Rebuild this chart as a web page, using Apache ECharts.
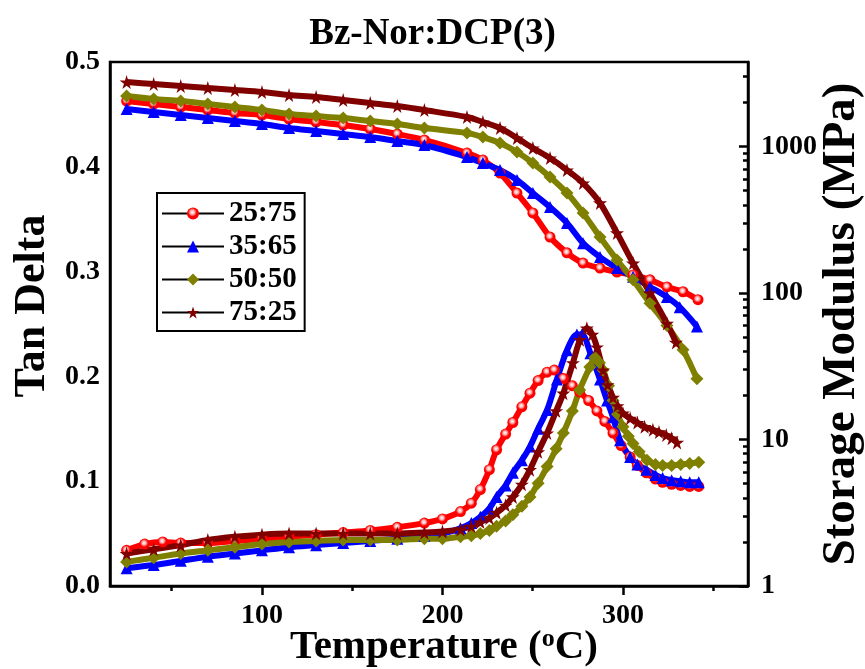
<!DOCTYPE html>
<html>
<head>
<meta charset="utf-8">
<script src="https://cdn.jsdelivr.net/npm/echarts@6/dist/echarts.min.js"></script>
<style>
  html, body { margin: 0; padding: 0; background: #ffffff; }
  #chart { width: 865px; height: 669px; }
</style>
</head>
<body>
<div id="chart"></div>
<script>
// Bz-Nor:DCP(3) dynamic mechanical analysis: tan delta (left) and storage modulus (right, log)
// Each point is [temperature (°C), value]

// Tan delta
const tan_25_75 = [[25,0.034],[35,0.040],[45,0.042],[55,0.041],[70,0.041],[85,0.043],[100,0.045],[115,0.047],[130,0.049],[145,0.051],[160,0.053],[175,0.056],[190,0.060],[200,0.064],[210,0.071],[216,0.079],[221,0.092],[226,0.111],[230,0.130],[235,0.145],[239,0.156],[244,0.171],[248.5,0.184],[253,0.196],[258,0.204],[262,0.206],[267,0.198],[272,0.191],[276,0.185],[281,0.177],[285.6,0.167],[290,0.157],[294.5,0.146],[299,0.134],[304,0.123],[308,0.115],[313,0.108],[318,0.102],[322,0.099],[327,0.097],[332,0.096],[337,0.095],[342,0.095]];
const tan_35_65 = [[25,0.017],[40,0.020],[55,0.024],[70,0.028],[85,0.031],[100,0.034],[115,0.037],[130,0.039],[145,0.041],[160,0.043],[175,0.045],[190,0.048],[200,0.050],[210,0.055],[216,0.060],[221,0.066],[226,0.074],[230,0.085],[235,0.096],[239,0.108],[244,0.120],[248.5,0.133],[253,0.150],[258,0.168],[263.4,0.197],[269,0.225],[274.5,0.240],[277.3,0.240],[282,0.222],[287.3,0.197],[291.2,0.177],[294.5,0.161],[298.4,0.139],[304,0.123],[308,0.116],[313,0.111],[318,0.106],[322,0.103],[327,0.101],[332,0.100],[337,0.099],[342,0.099]];
const tan_50_50 = [[25,0.023],[40,0.027],[55,0.031],[70,0.034],[85,0.037],[100,0.040],[115,0.042],[130,0.043],[145,0.044],[160,0.044],[175,0.044],[190,0.045],[200,0.045],[210,0.047],[216,0.048],[221,0.050],[226,0.053],[230,0.057],[235,0.062],[239,0.068],[244,0.076],[248.5,0.085],[253,0.098],[258,0.114],[263,0.131],[267,0.146],[272,0.167],[276,0.187],[281.7,0.209],[284.5,0.218],[287,0.213],[289,0.206],[292,0.191],[294.5,0.177],[297,0.164],[300,0.152],[303,0.143],[305.6,0.136],[309,0.128],[313.3,0.120],[318,0.116],[322,0.115],[327,0.115],[332,0.116],[337,0.117],[342,0.118]];
const tan_75_25 = [[25,0.031],[40,0.035],[55,0.039],[70,0.044],[85,0.047],[100,0.049],[115,0.050],[130,0.050],[145,0.050],[160,0.050],[175,0.050],[190,0.051],[200,0.052],[210,0.054],[216,0.057],[221,0.061],[226,0.065],[230,0.070],[235,0.077],[239,0.085],[244,0.097],[248.5,0.111],[253,0.128],[258,0.146],[263,0.167],[267,0.184],[272.3,0.213],[276.2,0.235],[280,0.246],[283,0.240],[285.6,0.228],[289,0.206],[291.5,0.192],[294.5,0.180],[297,0.172],[300,0.165],[304,0.160],[308,0.156],[312,0.152],[316.6,0.149],[320,0.147],[324,0.144],[327,0.141],[330,0.137]];

// Storage modulus (MPa)
const mod_25_75 = [[25,2045],[40,1951],[55,1860],[70,1775],[85,1693],[100,1641],[115,1541],[130,1470],[145,1402],[160,1317],[175,1217],[190,1108],[213.6,903],[222.4,809],[231.9,659],[241.3,481],[250.1,352],[259.6,241],[269,188],[277.9,160],[287.3,148],[296.7,139],[305.6,133],[315,123],[324.4,110],[333.3,102],[341.6,90]];
const mod_35_65 = [[25,1803],[40,1720],[55,1641],[70,1565],[85,1494],[100,1424],[115,1337],[130,1276],[145,1217],[160,1161],[175,1090],[190,1024],[213.6,848],[222.4,772],[231.9,691],[241.3,591],[250.1,481],[259.6,386],[269,301],[277.9,219],[287.3,176],[296.7,148],[305.6,129],[315,110],[324.4,94],[331.5,80],[341,59]];
const mod_50_50 = [[25,2212],[40,2110],[55,2045],[70,1951],[85,1860],[100,1775],[115,1667],[130,1615],[145,1565],[160,1494],[175,1424],[190,1337],[213.6,1237],[222.4,1161],[231.9,1057],[241.3,917],[250.1,772],[259.6,619],[269,481],[277.9,352],[287.3,241],[296.7,168],[305.6,123],[315,85],[324.4,60],[333.3,41],[341,26]];
const mod_75_25 = [[25,2755],[40,2671],[55,2588],[70,2508],[85,2431],[100,2355],[115,2247],[130,2178],[145,2077],[160,1981],[175,1890],[190,1775],[213.6,1590],[222.4,1470],[231.9,1337],[241.3,1143],[250.1,977],[259.6,835],[269,691],[277.9,563],[287.3,412],[296.7,257],[305.6,160],[315,100],[324.4,62],[329.4,46]];

// Axis ticks and labels
const tempLabels = [100, 200, 300];
const tempMinorTicks = [50, 150, 250, 350];
const modLabels = [1, 10, 100, 1000];
const modMinorTicks = [2,3,4,5,6,7,8,9,20,30,40,50,60,70,80,90,200,300,400,500,600,700,800,900,2000,3000];

const FONT = '"Liberation Serif", "Times New Roman", serif';
const STAR = 'path://M50,0 L61,35 L98,35 L68,57 L79,91 L50,70 L21,91 L32,57 L2,35 L39,35 Z';

const redBall = {
  type: 'radial', x: 0.45, y: 0.4, r: 0.6,
  colorStops: [
    { offset: 0, color: '#ffffff' },
    { offset: 0.3, color: '#ffb0b0' },
    { offset: 0.6, color: '#ff0000' },
    { offset: 1, color: '#ff0000' }
  ]
};

const groups = [
  { name: '25:75', tan: tan_25_75, mod: mod_25_75, color: '#ff0000', fill: redBall, symbol: 'circle', size: 11 },
  { name: '35:65', tan: tan_35_65, mod: mod_35_65, color: '#0000ff', fill: '#0000ff', symbol: 'triangle', size: 12 },
  { name: '50:50', tan: tan_50_50, mod: mod_50_50, color: '#808000', fill: '#808000', symbol: 'diamond', size: 13 },
  { name: '75:25', tan: tan_75_25, mod: mod_75_25, color: '#800000', fill: '#800000', symbol: STAR, size: 14 }
];

const series = [];
groups.forEach(g => {
  [['tan', 0], ['mod', 1]].forEach(([key, yIdx]) => {
    series.push({
      name: g.name,
      type: 'line',
      xAxisIndex: 0,
      yAxisIndex: yIdx,
      data: g[key],
      smooth: 0.3,
      symbol: g.symbol,
      symbolSize: g.size,
      showAllSymbol: true,
      lineStyle: { color: g.color, width: 6 },
      itemStyle: { color: g.fill, borderWidth: 0 },
      emphasis: { disabled: true }
    });
  });
});

const axisLineStyle = { color: '#000000', width: 2.5 };
const labelStyle = { fontFamily: FONT, fontWeight: 'bold', fontSize: 28, color: '#000000' };

const xMin = 15.8, xMax = 369.3;
const modMax = 3776;

const option = {
  animation: false,
  backgroundColor: '#ffffff',
  title: {
    text: 'Bz-Nor:DCP(3)',
    left: 'center',
    top: 11,
    textStyle: { fontFamily: FONT, fontWeight: 'bold', fontSize: 37, color: '#000000' }
  },
  legend: {
    orient: 'vertical',
    left: 157,
    top: 193,
    padding: [6, 8, 4, 4],
    itemGap: 4,
    itemWidth: 62,
    itemHeight: 15,
    borderColor: '#000000',
    borderWidth: 2,
    data: groups.map(g => g.name),
    lineStyle: { color: '#000000', width: 2 },
    textStyle: { fontFamily: FONT, fontWeight: 'bold', fontSize: 29, color: '#000000', lineHeight: 28 }
  },
  grid: {
    left: 110, right: 117, top: 62, bottom: 83,
    outerBoundsMode: 'none',
    containLabel: false,
    show: true, borderColor: '#000000', borderWidth: 2.5, backgroundColor: 'transparent'
  },
  xAxis: [
    {
      type: 'value', min: xMin, max: xMax, position: 'bottom',
      axisLine: { show: true, lineStyle: axisLineStyle },
      axisTick: { show: true, customValues: tempLabels, length: 9, lineStyle: axisLineStyle },
      axisLabel: Object.assign({ customValues: tempLabels, margin: 16 }, labelStyle),
      splitLine: { show: false },
      name: 'Temperature ({sup|o}C)',
      nameLocation: 'middle',
      nameGap: 40,
      nameMoveOverlap: false,
      nameTextStyle: {
        fontFamily: FONT, fontWeight: 'bold', fontSize: 41, color: '#000000', lineHeight: 42,
        padding: [0, 0, 0, 30],
        rich: { sup: { fontFamily: FONT, fontWeight: 'bold', fontSize: 26, lineHeight: 24, verticalAlign: 'top', color: '#000000' } }
      }
    },
    {
      type: 'value', min: xMin, max: xMax, position: 'bottom',
      axisLine: { show: false },
      axisTick: { show: true, customValues: tempMinorTicks, length: 5, lineStyle: axisLineStyle },
      axisLabel: { show: false },
      splitLine: { show: false }
    }
  ],
  yAxis: [
    {
      type: 'value', min: 0, max: 0.5, interval: 0.1, position: 'left',
      axisLine: { show: true, lineStyle: axisLineStyle },
      axisTick: { show: false },
      axisLabel: Object.assign({ margin: 10, formatter: v => v.toFixed(1) }, labelStyle),
      splitLine: { show: false },
      name: 'Tan Delta',
      nameLocation: 'middle',
      nameRotate: 90,
      nameGap: 55,
      nameMoveOverlap: false,
      nameTextStyle: { fontFamily: FONT, fontWeight: 'bold', fontSize: 44, color: '#000000', padding: [0, 0, 0, 36] }
    },
    {
      type: 'log', logBase: 10, min: 1, max: modMax, position: 'right',
      axisLine: { show: true, lineStyle: axisLineStyle },
      axisTick: { show: true, inside: true, customValues: modLabels, length: 9, lineStyle: axisLineStyle },
      axisLabel: Object.assign({ customValues: modLabels, margin: 13, formatter: v => String(Math.round(v)) }, labelStyle),
      splitLine: { show: false },
      name: 'Storage Modulus (MPa)',
      nameLocation: 'middle',
      nameRotate: 90,
      nameGap: 70,
      nameMoveOverlap: false,
      nameTextStyle: { fontFamily: FONT, fontWeight: 'bold', fontSize: 47, color: '#000000' }
    },
    {
      type: 'log', logBase: 10, min: 1, max: modMax, position: 'right',
      axisLine: { show: false },
      axisTick: { show: true, inside: true, customValues: modMinorTicks, length: 5, lineStyle: axisLineStyle },
      axisLabel: { show: false },
      splitLine: { show: false }
    }
  ],
  series: series
};

const chart = echarts.init(document.getElementById('chart'), null, { renderer: 'canvas' });
chart.setOption(option);
</script>
</body>
</html>
